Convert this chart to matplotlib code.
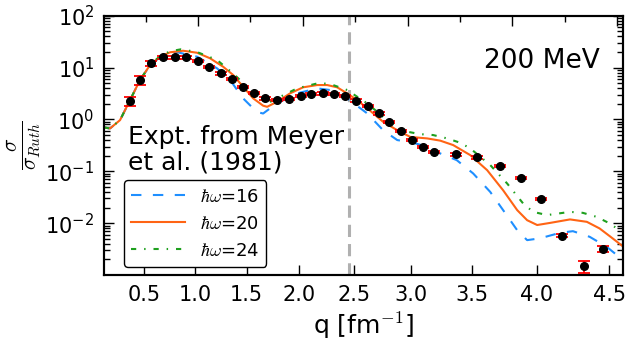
import numpy as np
import matplotlib

matplotlib.use("Agg")
import matplotlib.pyplot as plt
from matplotlib.ticker import FixedLocator, MultipleLocator, LogLocator, NullFormatter, LogFormatterMathtext

plt.rcParams["mathtext.fontset"] = "cm"
plt.rcParams["font.family"] = "DejaVu Sans"

# measured cross sections (Meyer et al. 1981)
q_expt = [0.36, 0.46, 0.57, 0.69, 0.81, 0.91, 1.03, 1.14, 1.25, 1.36, 1.47, 1.57,
          1.68, 1.79, 1.90, 2.01, 2.11, 2.22, 2.32, 2.42, 2.52, 2.62, 2.72, 2.81,
          2.91, 3.01, 3.10, 3.19, 3.37, 3.54, 3.72, 3.88, 4.03, 4.18, 4.33, 4.46]
sig_expt = [2.26, 5.75, 12.1, 15.7, 15.7, 15.7, 13.6, 10.1, 7.74, 5.93, 4.27, 3.27,
            2.55, 2.36, 2.50, 2.82, 3.09, 3.18, 3.13, 2.79, 2.31, 1.81, 1.31, 0.889,
            0.596, 0.400, 0.297, 0.238, 0.212, 0.185, 0.128, 0.0739, 0.0291, 0.00569,
            0.00148, 0.00322]
err_expt = [0.42, 1.1, 1.4, 0.8, 0.8, 0.8, 0.7, 0.5, 0.4, 0.3, 0.21, 0.16,
            0.13, 0.12, 0.12, 0.14, 0.15, 0.16, 0.16, 0.14, 0.12, 0.09, 0.07, 0.045,
            0.03, 0.02, 0.015, 0.012, 0.011, 0.009, 0.0064, 0.0037, 0.0015, 0.0004,
            0.0004, 0.0004]

# calculations, hbar*omega = 16, 20, 24
q_16 = [0.106, 0.166, 0.265, 0.364, 0.462, 0.561, 0.659, 0.758, 0.826, 0.885, 1.022,
        1.216, 1.342, 1.467, 1.563, 1.629, 1.658, 1.724, 1.790, 1.978, 2.164, 2.283,
        2.437, 2.616, 2.757, 2.880, 3.017, 3.136, 3.244, 3.380, 3.512, 3.647, 3.747,
        3.854, 3.928, 4.023, 4.166, 4.256, 4.370, 4.482, 4.565]
sig_16 = [0.70, 0.67, 0.97, 2.36, 5.75, 11.0, 15.9, 19.3, 19.8, 18.6, 16.2,
          9.66, 5.75, 2.55, 1.635, 1.345, 1.30, 1.635, 2.04, 3.18, 3.97, 3.69,
          2.55, 1.31, 0.62, 0.40, 0.355, 0.297, 0.221, 0.164, 0.091, 0.040, 0.0178,
          0.0073, 0.0047, 0.0051, 0.0065, 0.0070, 0.00545, 0.0035, 0.0022]

q_20 = [0.106, 0.166, 0.265, 0.364, 0.462, 0.561, 0.659, 0.758, 0.885, 1.022, 1.148,
        1.274, 1.371, 1.467, 1.563, 1.658, 1.696, 1.790, 1.912, 2.034, 2.164, 2.256,
        2.347, 2.437, 2.527, 2.643, 2.757, 2.880, 2.992, 3.136, 3.244, 3.351, 3.489,
        3.623, 3.747, 3.854, 3.928, 4.002, 4.095, 4.236, 4.351, 4.436, 4.520, 4.584]
sig_20 = [0.70, 0.67, 0.97, 2.36, 5.75, 11.2, 16.2, 19.7, 21.1, 19.3, 15.1,
          10.4, 7.2, 4.27, 2.55, 1.84, 1.75, 2.19, 3.18, 4.16, 4.6, 4.6,
          4.16, 3.18, 2.36, 1.47, 0.90, 0.62, 0.46, 0.43, 0.39, 0.32, 0.205,
          0.105, 0.043, 0.0178, 0.0114, 0.0092, 0.0101, 0.0118, 0.0106, 0.0079, 0.0051, 0.0036]

q_24 = [0.106, 0.166, 0.265, 0.364, 0.462, 0.561, 0.659, 0.758, 0.865, 1.022, 1.216,
        1.371, 1.505, 1.601, 1.696, 1.790, 1.978, 2.191, 2.310, 2.437, 2.527, 2.616,
        2.792, 2.966, 3.077, 3.185, 3.302, 3.408, 3.489, 3.647, 3.778, 3.898, 3.972,
        4.074, 4.236, 4.324, 4.417, 4.501, 4.565]
sig_24 = [0.70, 0.67, 0.97, 2.36, 5.75, 11.2, 16.6, 20.6, 22.5, 19.9, 14.0,
          7.7, 4.27, 2.74, 2.04, 2.55, 3.97, 5.1, 4.6, 3.69, 2.74, 2.04,
          0.97, 0.58, 0.52, 0.50, 0.43, 0.355, 0.276, 0.132, 0.058, 0.024, 0.0165,
          0.0143, 0.0165, 0.0158, 0.0132, 0.0099, 0.0073]

q_ticks = [0.5, 1.0, 1.5, 2.0, 2.5, 3.0, 3.5, 4.0, 4.5]
q_mark = 2.45

# horizontal axis is linear in scattering angle
TWO_K = 5.94
theta_lim = (2.05, 101.15)


def q_to_theta(q):
    q = np.asarray(q, dtype=float)
    return np.degrees(2 * np.arcsin(np.clip(q / TWO_K, -1, 1)))


def theta_to_q(t):
    return TWO_K * np.sin(np.radians(np.asarray(t, dtype=float)) / 2)


fig = plt.figure(figsize=(6.35, 3.46), dpi=100)
ax = fig.add_axes([104 / 635, 1 - 275 / 346, 519.3 / 635, 259.3 / 346])
ax.set_xscale("function", functions=(q_to_theta, theta_to_q))
ax.set_yscale("log")

ax.axvline(q_mark, color="#b0b0b0", lw=2.2, dashes=(4, 2.3), zorder=1)
ax.plot(q_16, sig_16, color="#1f8fff", lw=1.5, ls=(0, (5, 5.5)), label=r"$\hbar\omega$=16")
ax.plot(q_20, sig_20, color="#ff6414", lw=1.5, label=r"$\hbar\omega$=20")
ax.plot(q_24, sig_24, color="#1ea01e", lw=1.5, ls=(0, (2.5, 3.8, 0.7, 3.8)), label=r"$\hbar\omega$=24")
ax.errorbar(q_expt, sig_expt, yerr=err_expt, fmt="o", color="k", ms=5.5, ecolor="red",
            elinewidth=1.3, capsize=4.3, capthick=1.3, zorder=5)

ax.set_xlim(theta_to_q(theta_lim[0]), theta_to_q(theta_lim[1]))
ax.set_ylim(1e-3, 1e2)
ax.xaxis.set_major_locator(FixedLocator(q_ticks))
ax.set_xticklabels([f"{t:.1f}" for t in q_ticks])
ax.yaxis.set_major_locator(FixedLocator([1e-2, 1e-1, 1e0, 1e1, 1e2]))
ax.yaxis.set_major_formatter(LogFormatterMathtext())
ax.yaxis.set_minor_locator(LogLocator(base=10, subs=np.arange(2, 10), numticks=20))
ax.yaxis.set_minor_formatter(NullFormatter())
ax.tick_params(axis="x", which="major", direction="in", length=7, width=1, labelsize=15, pad=7,
               top=False)
ax.tick_params(axis="y", which="major", direction="in", length=7, width=1, labelsize=15, pad=7,
               left=True, right=True)
ax.tick_params(axis="y", which="minor", direction="in", length=4, width=1, left=True, right=True)
for s in ax.spines.values():
    s.set_linewidth(1.5)

ax.set_xlabel(r"q [fm$^{-1}$]", fontsize=18)
ax.set_ylabel(r"$\frac{\sigma}{\sigma_{Ruth}}$", fontsize=22)
ax.yaxis.set_label_coords(-0.119, 0.5)

ax.text(0.955, 0.797, "200 MeV", transform=ax.transAxes, ha="right", va="baseline", fontsize=19)
ax.text(0.047, 0.405, "Expt. from Meyer\net al. (1981)", transform=ax.transAxes,
        ha="left", va="baseline", fontsize=18, linespacing=1.1)

leg = ax.legend(loc="lower left", bbox_to_anchor=(0.0385, 0.031), borderaxespad=0,
                fontsize=13, handlelength=3.0, fancybox=True, framealpha=1)
leg.get_frame().set_edgecolor("black")
leg.get_frame().set_linewidth(1.0)

# angle ticks along the top
ax2 = ax.twiny()
ax2.set_xlim(*theta_lim)
ax2.xaxis.set_major_locator(MultipleLocator(20))
ax2.xaxis.set_minor_locator(MultipleLocator(10))
ax2.tick_params(axis="x", which="major", direction="in", length=7, width=1, labeltop=False)
ax2.tick_params(axis="x", which="minor", direction="in", length=4, width=1)
for s in ax2.spines.values():
    s.set_linewidth(1.5)

fig.savefig("out.png", dpi=100)
